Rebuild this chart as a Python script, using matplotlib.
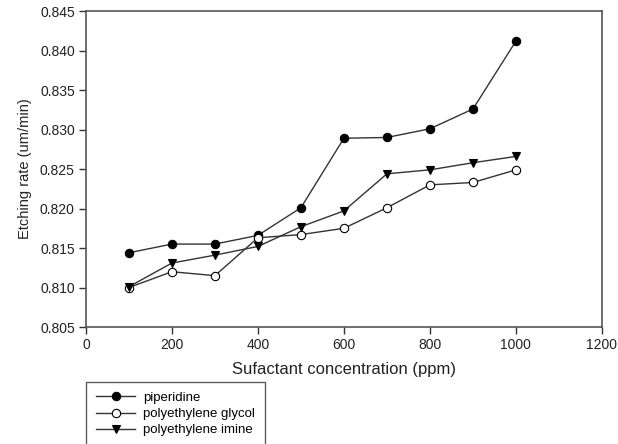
import matplotlib
matplotlib.use("Agg")
import matplotlib.pyplot as plt

plt.rcParams['font.family'] = ['Liberation Sans', 'DejaVu Sans']

conc = [100, 200, 300, 400, 500, 600, 700, 800, 900, 1000]
piperidine = [0.8144, 0.8155, 0.8155, 0.8166, 0.8201, 0.8289, 0.8290, 0.8301, 0.8326, 0.8412]
peg = [0.8100, 0.8120, 0.8115, 0.8163, 0.8167, 0.8175, 0.8201, 0.8230, 0.8233, 0.8249]
pei = [0.8101, 0.8131, 0.8141, 0.8152, 0.8177, 0.8197, 0.8244, 0.8249, 0.8258, 0.8266]

fig = plt.figure(figsize=(6.18, 4.44), dpi=100)
ax = fig.add_axes([0.139, 0.2635, 0.835, 0.7115])

line_kw = dict(color='#333333', linewidth=1.0, markeredgecolor='black', markeredgewidth=0.8)
ax.plot(conc, piperidine, marker='o', markersize=6, markerfacecolor='black', label='piperidine', **line_kw)
ax.plot(conc, peg, marker='o', markersize=6, markerfacecolor='white', label='polyethylene glycol', **line_kw)
ax.plot(conc, pei, marker='v', markersize=6, markerfacecolor='black', label='polyethylene imine', **line_kw)

ax.set_xlim(0, 1200)
ax.set_ylim(0.805, 0.845)
ax.set_xticks(range(0, 1201, 200))
ax.set_yticks([0.805, 0.810, 0.815, 0.820, 0.825, 0.830, 0.835, 0.840, 0.845])
ax.set_yticklabels([f"{v:.3f}" for v in ax.get_yticks()])
ax.tick_params(direction='out', length=5, width=1, colors='#333333', labelsize=10, labelcolor='#222222',
               top=False, right=False, pad=3)
for s in ax.spines.values():
    s.set_color('#555555')
    s.set_linewidth(1.2)

ax.set_xlabel('Sufactant concentration (ppm)', fontsize=12, color='#222222', labelpad=7)
ax.set_ylabel('Etching rate (um/min)', fontsize=10.5, color='#222222', labelpad=6)

leg = fig.legend(loc='upper left', bbox_to_anchor=(0.139, 0.14), fontsize=9.5, frameon=True,
                 fancybox=False, edgecolor='#333333', handlelength=3.0, borderpad=0.75,
                 labelspacing=0.3, handletextpad=0.6, borderaxespad=0)
leg.get_frame().set_linewidth(1.0)

fig.savefig('out.png', dpi=100)
